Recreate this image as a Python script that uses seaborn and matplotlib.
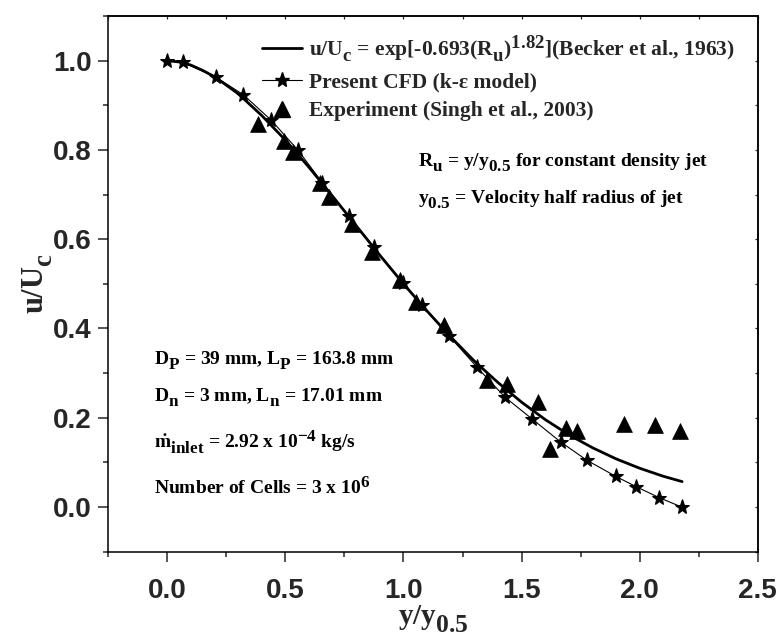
import numpy as np
import pandas as pd
import matplotlib
matplotlib.use("Agg")
import matplotlib.pyplot as plt
from matplotlib.ticker import MultipleLocator
from matplotlib.lines import Line2D
import seaborn as sns

try:
    import matplotlib._mathtext as _mt
    _mt.SHRINK_FACTOR = 0.88
    _mt.FontConstantsBase.sub1 = 0.6
    _mt.FontConstantsBase.sub2 = 0.7
except Exception:
    pass

# ---------------- data ----------------
# Becker et al. (1963) correlation curve
becker_x = [0.0, 0.05, 0.1, 0.15, 0.2, 0.3, 0.4, 0.5, 0.6, 0.7, 0.8, 0.9, 1.0,
            1.1, 1.2, 1.3, 1.4, 1.5, 1.6, 1.7, 1.8, 1.9, 2.0, 2.1, 2.18]
becker_y = [1.0, 0.997, 0.990, 0.978, 0.964, 0.926, 0.877, 0.822, 0.761, 0.696,
            0.630, 0.564, 0.500, 0.439, 0.381, 0.327, 0.279, 0.235, 0.196,
            0.162, 0.133, 0.108, 0.087, 0.069, 0.057]

# Present CFD (k-epsilon model)
cfd_x = [0.0, 0.067, 0.205, 0.321, 0.441, 0.554, 0.657, 0.770, 0.874, 0.999,
         1.077, 1.194, 1.310, 1.430, 1.543, 1.665, 1.776, 1.898, 1.984, 2.083, 2.178]
cfd_y = [1.0, 0.996, 0.963, 0.924, 0.866, 0.799, 0.726, 0.651, 0.582, 0.501,
         0.453, 0.383, 0.314, 0.246, 0.198, 0.146, 0.105, 0.069, 0.046, 0.021, 0.0]

# Experiment (Singh et al., 2003)
exp_x = [0.385, 0.493, 0.533, 0.647, 0.684, 0.782, 0.866, 0.985,
         1.052, 1.171, 1.352, 1.438, 1.571, 1.620, 1.688, 1.733, 1.935, 2.065, 2.171]
exp_y = [0.858, 0.819, 0.795, 0.726, 0.694, 0.633, 0.572, 0.509,
         0.460, 0.408, 0.285, 0.276, 0.236, 0.131, 0.178, 0.171, 0.187, 0.183, 0.170]

x_ticks = [0.0, 0.5, 1.0, 1.5, 2.0, 2.5]
y_ticks = [0.0, 0.2, 0.4, 0.6, 0.8, 1.0]

labels = [r"u/U$_\mathrm{c}$ = exp[-0.693(R$_\mathrm{u}$)$^\mathrm{1.82}$](Becker et al., 1963)",
          "Present CFD (k-ε model)",
          "Experiment (Singh et al., 2003)"]

# ---------------- style ----------------
sns.set_style("ticks")
plt.rcParams.update({
    "font.family": ["Liberation Sans", "DejaVu Sans"],
    "font.weight": "bold",
    "mathtext.fontset": "custom",
    "mathtext.rm": "Liberation Serif:bold",
    "mathtext.it": "Liberation Serif:bold",
    "mathtext.bf": "Liberation Serif:bold",
    "mathtext.sf": "Liberation Serif:bold",
    "axes.linewidth": 1.1,
    "axes.edgecolor": "black",
})
SERIF = ["Liberation Serif", "DejaVu Serif"]

fig = plt.figure(figsize=(7.78, 6.35), dpi=100)
ax = fig.add_axes([0.1392, 0.1312, 0.8347, 0.8436])

becker = pd.DataFrame({"x": becker_x, "y": becker_y})
cfd = pd.DataFrame({"x": cfd_x, "y": cfd_y})
expt = pd.DataFrame({"x": exp_x, "y": exp_y})

sns.lineplot(data=becker, x="x", y="y", ax=ax, color="black", lw=2.0,
             sort=False, estimator=None)
sns.lineplot(data=cfd, x="x", y="y", ax=ax, color="black", lw=0.8,
             marker="*", markersize=11, markeredgecolor="black",
             markerfacecolor="black", sort=False, estimator=None)
sns.scatterplot(data=expt, x="x", y="y", ax=ax, marker="^", s=130,
                color="black", edgecolor="black", linewidth=0.5)

ax.set_xlim(-0.25, 2.5)
ax.set_ylim(-0.1, 1.1)
ax.set_xticks(x_ticks)
ax.set_yticks(y_ticks)
ax.set_xticklabels([f"{v:.1f}" for v in x_ticks])
ax.set_yticklabels([f"{v:.1f}" for v in y_ticks])
ax.xaxis.set_minor_locator(MultipleLocator(0.25))
ax.yaxis.set_minor_locator(MultipleLocator(0.1))
ax.tick_params(which="major", direction="out", length=7, width=1.1,
               labelsize=20, pad=5)
ax.tick_params(axis="x", which="major", pad=12)
ax.tick_params(which="minor", direction="out", length=3.5, width=1.1)
for lab in ax.get_xticklabels() + ax.get_yticklabels():
    lab.set_fontweight("bold")

# inward ticks on top / right
top = ax.secondary_xaxis("top")
top.set_xticks(x_ticks)
top.xaxis.set_minor_locator(MultipleLocator(0.25))
top.tick_params(which="both", direction="in", length=2.5, width=0.9,
                labeltop=False)
right = ax.secondary_yaxis("right")
right.set_yticks(y_ticks)
right.yaxis.set_minor_locator(MultipleLocator(0.1))
right.tick_params(which="both", direction="in", length=2.5, width=0.9,
                  labelright=False)

ax.set_xlabel(r"y/y$_\mathrm{0.5}$", fontsize=21, fontfamily=SERIF,
              fontweight="bold", labelpad=0)
ax.set_ylabel(r"u/U$_\mathrm{c}$", fontsize=22, fontfamily=SERIF,
              fontweight="bold", labelpad=-1)

# legend
h1 = Line2D([], [], color="black", lw=2.0)
h2 = Line2D([], [], color="black", lw=0.8, marker="*", markersize=11)
h3 = Line2D([], [], color="black", lw=0, marker="^", markersize=11)
leg = ax.legend([h1, h2, h3], labels, loc="upper left",
                bbox_to_anchor=(0.236, 0.968), frameon=False,
                prop={"family": SERIF, "weight": "bold", "size": 15.5},
                handlelength=1.9, handletextpad=0.3, labelspacing=0.4,
                borderpad=0.0, borderaxespad=0.0)

tkw = dict(fontfamily=SERIF, fontweight="bold", color="black")
ax.text(1.063, 0.762, r"R$_\mathrm{u}$ = y/y$_\mathrm{0.5}$ for constant density jet",
        fontsize=14, va="baseline", **tkw)
ax.text(1.063, 0.679, r"y$_\mathrm{0.5}$ = Velocity half radius of jet",
        fontsize=14, va="baseline", **tkw)

ax.text(-0.057, 0.318, r"D$_\mathrm{P}$ = 39 mm, L$_\mathrm{P}$ = 163.8 mm",
        fontsize=14, va="baseline", **tkw)
ax.text(-0.057, 0.2356, r"D$_\mathrm{n}$ = 3 mm, L$_\mathrm{n}$ = 17.01 mm",
        fontsize=14, va="baseline", **tkw)
ax.text(-0.057, 0.131, r"$\dot{\mathrm{m}}_\mathrm{inlet}$ = 2.92 x 10$^\mathrm{-4}$ kg/s",
        fontsize=14, va="baseline", **tkw)
ax.text(-0.057, 0.0285, r"Number of Cells = 3 x 10$^\mathrm{6}$",
        fontsize=14, va="baseline", **tkw)

fig.savefig("out.png", dpi=100)
